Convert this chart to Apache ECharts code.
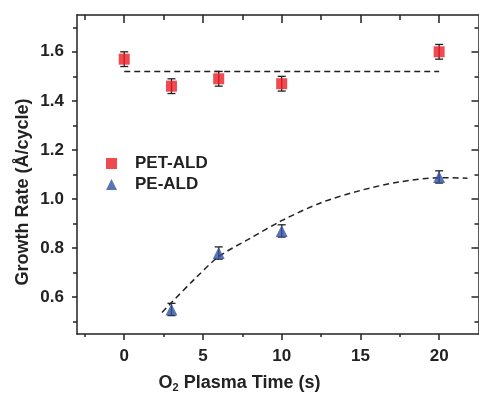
<!DOCTYPE html>
<html>
<head>
<meta charset="utf-8">
<script src="https://cdn.jsdelivr.net/npm/echarts@6/dist/echarts.min.js"></script>
<style>
  html, body { margin: 0; padding: 0; background: #fff; }
  #chart { width: 479px; height: 396px; }
</style>
</head>
<body>
<div id="chart"></div>
<script>
// 数据
const petX = [0, 3, 6, 10, 20];
const petY = [1.57, 1.46, 1.49, 1.47, 1.60];
const petErr = [0.03, 0.03, 0.03, 0.03, 0.03];

const peX = [3, 6, 10, 20];
const peY = [0.55, 0.78, 0.87, 1.09];
const peErr = [0.025, 0.025, 0.025, 0.025];

// 虚线：PET 平均值，PE 拟合曲线
const petMeanLine = [[0, 1.52], [20, 1.52]];
const peFitCurve = [[2.4, 0.538], [3, 0.578], [4.5, 0.676], [6, 0.765], [8, 0.84], [10, 0.912], [12.5, 0.985], [15, 1.035], [17.5, 1.07], [20, 1.087], [21.8, 1.085]];

// 刻度
const xMajor = [0, 5, 10, 15, 20];
const xMinor = [-2.5, 2.5, 7.5, 12.5, 17.5];
const yMajor = [0.6, 0.8, 1.0, 1.2, 1.4, 1.6];
const yMinor = [0.5, 0.7, 0.9, 1.1, 1.3, 1.5, 1.7];

const font = "'Liberation Sans', Arial, sans-serif";
const ink = '#222';
const axisLine = { show: true, onZero: false, lineStyle: { color: ink, width: 1.5 } };
const noLine = { show: false, onZero: false };

// 坐标轴（主/次刻度分开画）
function xAxisOf(pos, ticks, len, inside, line, labels) {
  return {
    type: 'value', min: -3, max: 22.5, position: pos,
    axisLine: line ? axisLine : noLine,
    splitLine: { show: false },
    axisTick: { show: true, customValues: ticks, length: len, inside: inside, lineStyle: { color: ink, width: 1.5 } },
    axisLabel: labels ? {
      show: true, customValues: ticks, margin: 14,
      color: ink, fontFamily: font, fontWeight: 'bold', fontSize: 17
    } : { show: false }
  };
}
function yAxisOf(pos, ticks, len, inside, line, labels) {
  return {
    type: 'value', min: 0.45, max: 1.75, position: pos,
    axisLine: line ? axisLine : noLine,
    splitLine: { show: false },
    axisTick: { show: true, customValues: ticks, length: len, inside: inside, lineStyle: { color: ink, width: 1.5 } },
    axisLabel: labels ? {
      show: true, customValues: ticks, margin: 13,
      formatter: v => v.toFixed(1),
      color: ink, fontFamily: font, fontWeight: 'bold', fontSize: 17
    } : { show: false }
  };
}

// 误差棒
function errData(xs, ys, es) {
  return xs.map((x, i) => [x, ys[i] - es[i], ys[i] + es[i]]);
}
function renderErr(params, api) {
  const x = api.value(0);
  const lo = api.coord([x, api.value(1)]);
  const hi = api.coord([x, api.value(2)]);
  const cap = 4;
  const style = { stroke: ink, lineWidth: 1.3 };
  return {
    type: 'group',
    children: [
      { type: 'line', shape: { x1: lo[0], y1: lo[1], x2: hi[0], y2: hi[1] }, style },
      { type: 'line', shape: { x1: lo[0] - cap, y1: lo[1], x2: lo[0] + cap, y2: lo[1] }, style },
      { type: 'line', shape: { x1: hi[0] - cap, y1: hi[1], x2: hi[0] + cap, y2: hi[1] }, style }
    ]
  };
}

const red = '#ec1c24';
const blue = '#2f50a2';

const option = {
  animation: false,
  grid: { left: 77, right: 0.5, top: 15, bottom: 62 },
  xAxis: [
    xAxisOf('bottom', xMajor, 6, false, true, true),
    xAxisOf('bottom', xMinor, 3, false, false, false),
    xAxisOf('top', xMajor, 8, true, true, false),
    xAxisOf('top', xMinor, 5, true, false, false)
  ],
  yAxis: [
    yAxisOf('left', yMajor, 5, false, true, true),
    yAxisOf('left', yMinor, 4, false, false, false),
    yAxisOf('right', yMajor, 7, true, true, false),
    yAxisOf('right', yMinor, 4, true, false, false)
  ],
  legend: {
    orient: 'vertical',
    left: 101, top: 150,
    itemWidth: 11, itemHeight: 11, itemGap: 4,
    data: [
      { name: 'PET-ALD', icon: 'rect', itemStyle: { color: red } },
      { name: 'PE-ALD', icon: 'triangle', itemStyle: { color: blue } }
    ],
    textStyle: { color: ink, fontFamily: font, fontWeight: 'bold', fontSize: 17, lineHeight: 16, padding: [0, 0, 0, 13] }
  },
  graphic: [
    {
      type: 'text', left: 'center', x: 282, y: 383,
      style: {
        text: '{b|O}{s|2}{b| Plasma Time (s)}',
        rich: {
          b: { fontFamily: font, fontWeight: 'bold', fontSize: 18, fill: ink },
          s: { fontFamily: font, fontWeight: 'bold', fontSize: 11, fill: ink, padding: [10, 0, 0, 0] }
        },
        align: 'center', verticalAlign: 'middle'
      }
    },
    {
      type: 'text', x: 23, y: 192, rotation: Math.PI / 2,
      style: {
        text: 'Growth Rate (Å/cycle)',
        fontFamily: font, fontWeight: 'bold', fontSize: 18, fill: ink,
        align: 'center', verticalAlign: 'middle'
      }
    }
  ],
  series: [
    {
      type: 'line', data: petMeanLine, symbol: 'none', silent: true,
      lineStyle: { color: ink, width: 1.5, type: [6, 4] }, z: 1
    },
    {
      type: 'line', data: peFitCurve, symbol: 'none', smooth: 0.3, silent: true,
      lineStyle: { color: ink, width: 1.5, type: [6, 4] }, z: 1
    },
    { type: 'custom', renderItem: renderErr, data: errData(petX, petY, petErr), z: 2 },
    { type: 'custom', renderItem: renderErr, data: errData(peX, peY, peErr), z: 2 },
    {
      name: 'PET-ALD', type: 'scatter', symbol: 'rect', symbolSize: 11, z: 3,
      itemStyle: { color: red },
      data: petX.map((x, i) => [x, petY[i]])
    },
    {
      name: 'PE-ALD', type: 'scatter', symbol: 'triangle', symbolSize: 12, z: 3,
      itemStyle: { color: blue },
      data: peX.map((x, i) => [x, peY[i]])
    }
  ]
};

const myChart = echarts.init(document.getElementById('chart'));
myChart.setOption(option);
</script>
</body>
</html>
